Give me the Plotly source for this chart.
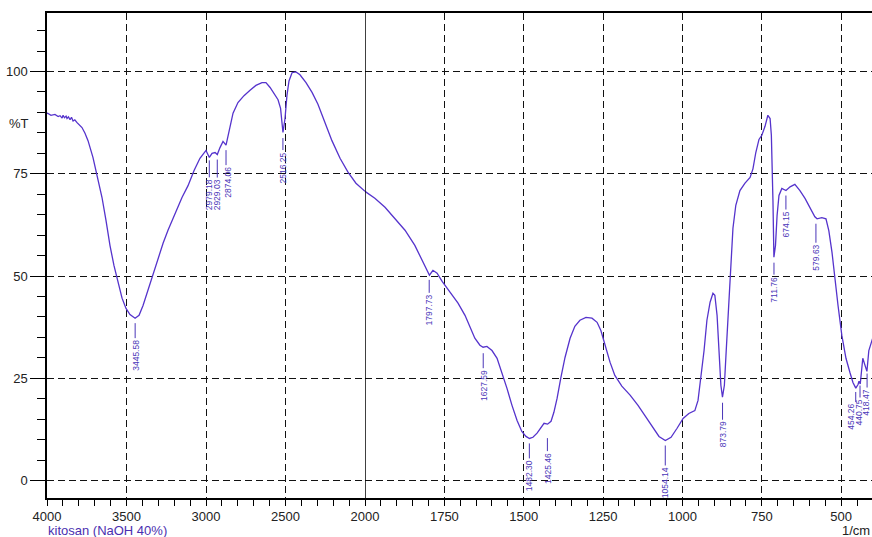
import numpy as np
import plotly.graph_objects as go

# ---------------- data ----------------
wavenumber = [4000, 3996, 3975, 3950, 3930, 3918, 3905, 3899, 3890, 3880, 3874, 3865, 3855, 3846, 3836, 3825,
              3811, 3795, 3780, 3761, 3742, 3711, 3679, 3654, 3629, 3604, 3579, 3553, 3528, 3503,
              3478, 3446, 3421, 3396, 3365, 3333, 3302, 3270, 3239, 3195, 3151, 3113, 3075, 3038,
              3000, 2979, 2962, 2943, 2929, 2912, 2893, 2874, 2855, 2830, 2799, 2761, 2723, 2686,
              2648, 2623, 2597, 2572, 2547, 2531, 2516, 2503, 2491, 2478, 2459, 2434, 2409, 2371,
              2333, 2296, 2252, 2208, 2157, 2107, 2057, 2000,
              1969, 1937, 1906, 1874, 1843, 1817, 1802, 1797, 1786, 1773, 1757, 1732, 1707, 1685,
              1669, 1654, 1638, 1628, 1616, 1600, 1584, 1569, 1553, 1537, 1521, 1506, 1493, 1482,
              1471, 1458, 1446, 1436, 1425, 1414, 1405, 1395, 1383, 1370, 1354, 1339, 1323, 1304,
              1285, 1269, 1257, 1244, 1228, 1213, 1191, 1165, 1140, 1115, 1093, 1074, 1054, 1036,
              1017, 998, 980, 961, 951, 942, 932, 923, 913, 904, 898, 891, 885, 879, 874, 868, 863,
              857, 850, 841, 832, 819, 803, 787, 778, 769, 759, 750, 740, 731, 724, 720, 715, 712,
              707, 702, 696, 687, 674, 661, 646, 630, 614, 598, 583, 576, 561, 548, 539, 529, 520,
              510, 498, 485, 472, 463, 454, 447, 444, 440, 432, 425, 419, 413, 403, 400]
transmittance = [89.7, 89.8, 89.3, 89.5, 89.0, 89.2, 88.6, 89.3, 88.7, 89.1, 88.5, 88.9, 88.2, 88.8, 87.9, 88.2,
                 87.5, 87.0, 86.3, 84.9, 83.1, 79.0, 73.4, 69.2, 63.6, 57.5, 52.6, 48.2, 44.6, 42.1,
                 40.6, 39.7, 40.4, 42.8, 46.5, 50.7, 54.3, 58.0, 61.2, 65.4, 69.2, 72.1, 75.8, 78.8,
                 80.7, 79.0, 80.0, 80.2, 79.7, 81.4, 82.9, 82.0, 85.6, 89.8, 92.4, 94.1, 95.4, 96.6,
                 97.3, 97.3, 96.1, 94.6, 93.1, 91.0, 85.1, 88.5, 94.1, 97.7, 99.7, 99.9, 99.2, 97.3,
                 94.9, 92.0, 87.6, 83.1, 78.8, 75.4, 72.7, 70.7,
                 69.0, 66.8, 64.1, 61.2, 57.5, 53.3, 50.9, 50.2, 51.4, 50.7, 48.7, 46.0, 43.4, 40.4,
                 37.5, 34.8, 33.1, 32.6, 32.8, 31.8, 29.9, 26.5, 22.6, 18.4, 14.7, 12.0, 10.8, 10.3,
                 10.6, 11.6, 13.0, 14.0, 13.8, 14.5, 16.7, 20.1, 25.2, 30.1, 34.8, 37.7, 39.2, 39.9,
                 39.7, 38.7, 36.7, 33.1, 28.9, 25.7, 23.1, 20.9, 18.4, 15.5, 12.8, 10.8, 9.8, 10.6,
                 12.8, 15.2, 16.4, 17.1, 19.6, 25.0, 31.8, 39.2, 43.6, 45.8, 45.3, 40.4, 31.8, 23.3, 20.4, 23.3, 30.6,
                 39.2, 46.5, 61.7, 67.3, 70.9, 72.7, 74.1, 76.2, 80.2, 83.4, 84.4, 86.6, 89.3, 88.5, 84.4, 68.5, 54.6,
                 57.5, 64.8, 69.7, 71.4, 70.9, 71.8, 72.4, 70.9, 69.0, 66.8, 64.5, 64.0, 64.3, 64.0, 61.1, 55.8, 48.9,
                 42.8, 35.5, 29.9, 26.3, 24.0, 22.6, 23.5, 24.3, 23.6, 29.9, 28.2, 26.7, 31.8, 34.3, 35.0]

peak_wavenumbers = [3445.58, 2979.18, 2929.03, 2874.06, 2516.25, 1797.73, 1627.59, 1482.30,
                    1425.46, 1054.14, 873.79, 711.76, 674.15, 579.63, 454.26, 440.75, 418.47]
peak_labels = ["3445.58", "2979.18", "2929.03", "2874.06", "2516.25", "1797.73", "1627.59", "1482.30",
               "1425.46", "1054.14", "873.79", "711.76", "674.15", "579.63", "454.26", "440.75", "418.47"]

x_ticks_left = [4000, 3500, 3000, 2500]
x_ticks_right = [2000, 1750, 1500, 1250, 1000, 750, 500]
y_ticks = [0, 25, 50, 75, 100]

# ---------------- figure ----------------
LINE = "#5533cc"
LABEL = "#4a35b8"
FONT = "Liberation Sans, Arial, sans-serif"
SPLIT = 2000
wn = np.array(wavenumber, dtype=float)
tr = np.array(transmittance, dtype=float)
left = wn >= SPLIT
right = wn <= SPLIT

fig = go.Figure()
fig.add_trace(go.Scatter(x=wn[left], y=tr[left], mode="lines", xaxis="x", yaxis="y",
                         line=dict(color=LINE, width=1.3), showlegend=False, hoverinfo="skip"))
fig.add_trace(go.Scatter(x=wn[right], y=tr[right], mode="lines", xaxis="x2", yaxis="y",
                         line=dict(color=LINE, width=1.3), showlegend=False, hoverinfo="skip"))

W, H = 872, 537
ML, MR, MT, MB = 47, 0, 13, 39
pw, ph = W - ML - MR, H - MT - MB


def px_to_paper(sx, sy):
    return (sx - ML) / pw, (H - MB - sy) / ph


# peak marker geometry (pixels): gap below curve, tick length, horizontal text shift
label_style = {
    "3445.58": (5, 15, 0), "2979.18": (3, 17, 0), "2929.03": (5, 18, 0), "2874.06": (5, 15, 2),
    "2516.25": (6, 12, 0), "1797.73": (5, 13, 0), "1627.59": (6, 15, 0), "1482.30": (5, 15, 0),
    "1425.46": (14, 13, 0), "1054.14": (5, 20, 0), "873.79": (6, 17, 0), "711.76": (6, 12, 0),
    "674.15": (5, 14, 0), "579.63": (6, 19, 0), "454.26": (4, 10, -5), "440.75": (2, 12, -1),
    "418.47": (4, 14, -2),
}
wn_sorted = wn[::-1]
tr_sorted = tr[::-1]
annotations = []
shapes = [dict(type="line", xref="x2", yref="paper", x0=SPLIT, x1=SPLIT, y0=0, y1=1,
               line=dict(color="black", width=1.5))]
for p, lab in zip(peak_wavenumbers, peak_labels):
    gap, ln, xs = label_style[lab]
    yv = float(np.interp(p, wn_sorted, tr_sorted))
    xr = "x" if p >= SPLIT else "x2"
    shapes.append(dict(type="line", xref=xr, yref="y", x0=p, x1=p,
                       ysizemode="pixel", yanchor=yv, y0=-gap, y1=-(gap + ln),
                       line=dict(color=LABEL, width=1)))
    annotations.append(dict(
        x=p, y=yv, xref=xr, yref="y", text=lab, textangle=-90, showarrow=False,
        xanchor="center", yanchor="top", yshift=-(gap + ln + 1), xshift=xs,
        font=dict(family=FONT, size=8.5, color=LABEL), borderpad=0))

x, y = px_to_paper(19, 124)
annotations.append(dict(text="%T", x=x, y=y, xref="paper", yref="paper", showarrow=False,
                        xanchor="center", yanchor="middle",
                        font=dict(family=FONT, size=13, color="#222")))
x, y = px_to_paper(46, 530)
annotations.append(dict(text="kitosan (NaOH 40%)", x=x, y=y, xref="paper", yref="paper",
                        showarrow=False, xanchor="left", yanchor="middle",
                        font=dict(family=FONT, size=13, color="#4a2fb0")))
x, y = px_to_paper(872, 530)
annotations.append(dict(text="1/cm", x=x, y=y, xref="paper", yref="paper", showarrow=False,
                        xanchor="right", yanchor="middle",
                        font=dict(family=FONT, size=13, color="#222")))

dom = (365 - ML) / pw
grid = dict(showgrid=True, gridcolor="#111", gridwidth=1.4, griddash="7px,4px")
axis_common = dict(showline=True, linecolor="black", linewidth=1.5, ticks="outside",
                   tickcolor="black", ticklen=6, tickwidth=1, zeroline=False,
                   tickfont=dict(family=FONT, size=13, color="#222"), **grid)

fig.update_layout(
    width=W, height=H, autosize=False,
    margin=dict(l=ML, r=MR, t=MT, b=MB, pad=0),
    paper_bgcolor="white", plot_bgcolor="white",
    xaxis=dict(domain=[0, dom], range=[4000, SPLIT], anchor="y", tickmode="array",
               tickvals=x_ticks_left, ticktext=[str(v) for v in x_ticks_left], mirror=True,
               minor=dict(tickmode="linear", tick0=0, dtick=100, ticks="outside", ticklen=6,
                          tickcolor="black", showgrid=False),
               **axis_common),
    xaxis2=dict(domain=[dom, 1], range=[SPLIT, 403], anchor="y", tickmode="array",
                tickvals=x_ticks_right, ticktext=[str(v) for v in x_ticks_right], mirror=True,
                minor=dict(tickmode="linear", tick0=0, dtick=50, ticks="outside", ticklen=6,
                           tickcolor="black", showgrid=False),
                **axis_common),
    yaxis=dict(range=[-4.25, 114.3], anchor="x", tickmode="array", tickvals=y_ticks,
               ticktext=[str(v) for v in y_ticks], mirror=False,
               minor=dict(tickmode="linear", tick0=0, dtick=5, ticks="outside", ticklen=8,
                          tickcolor="black", showgrid=False),
               **{**axis_common, "ticklen": 15}),
    annotations=annotations,
    shapes=shapes,
)

# remove the default page margin so the 872x537 figure fills the window exactly
fig.write_html("out.html",
               config={"displayModeBar": False},
               post_script="document.body.style.margin='0';document.body.style.overflow='hidden';")
